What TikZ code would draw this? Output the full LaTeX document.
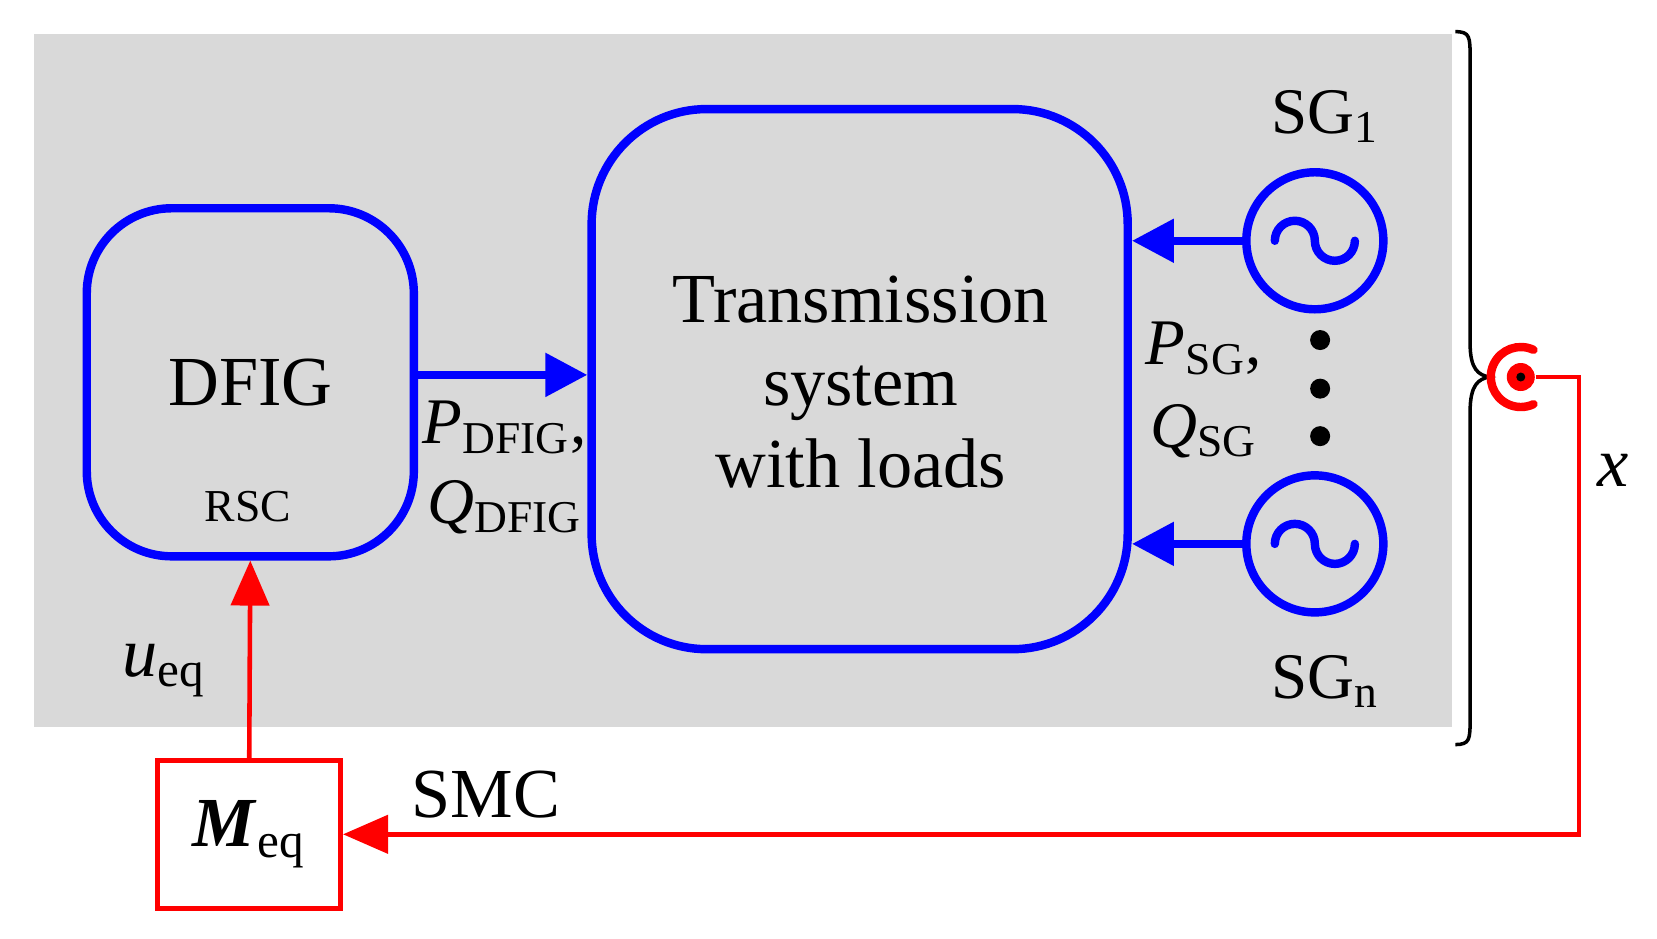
\documentclass[tikz,border=0pt]{standalone}
\usepackage{fontspec}
\setmainfont{Liberation Serif}
\usetikzlibrary{arrows.meta}
\begin{document}
\begin{tikzpicture}[x=0.01056cm,y=-0.01056cm,
  blu/.style={draw={rgb,255:red,0;green,0;blue,255},line width=2.4pt},
  rd/.style={draw={rgb,255:red,255;green,0;blue,0},line width=1.3pt},
  barr/.style={blu,-{Triangle[length=0.42cm,width=0.42cm]}},
  rarr/.style={rd,-{Triangle[length=0.45cm,width=0.38cm]}},
  big/.style={font=\fontsize{20}{23.5}\selectfont},
  mid/.style={font=\fontsize{18.5}{22}\selectfont}]
\useasboundingbox (0,0) rectangle (1569,889);
\fill[gray!30] (32,32) rectangle (1375,688);
\node[blu,rounded corners=0.85cm,minimum width=3.27cm,minimum height=3.48cm] (dfig) at (237,362) {};
\node[big] (dt) at (237,362) {DFIG};
\node[font=\fontsize{13}{16}\selectfont] (rsc) at (235,480) {RSC};
\node[blu,rounded corners=1.15cm,minimum width=5.36cm,minimum height=5.4cm] (ts) at (814,359) {};
\node[big,align=center] (tt) at (815,362) {Transmission\\system\\with loads};
\node[blu,circle,minimum size=1.37cm,inner sep=0] (sg1) at (1245,228) {};
\node[blu,circle,minimum size=1.37cm,inner sep=0] (sgn) at (1245,515) {};
\foreach \c in {sg1,sgn}{
 \draw[blu,line cap=round] ([xshift=-0.4cm]\c.center) arc[start angle=180,end angle=0,radius=0.2cm] arc[start angle=180,end angle=360,radius=0.2cm];}
\foreach \y in {322,368,413} \fill (1250,\y) circle[radius=0.1cm];
\node[mid] (l1) at (1255,110) {SG\textsubscript{1}};
\node[mid] (ln) at (1255,645) {SG\textsubscript{n}};
\draw[barr] (dfig.east|-0,355) -- (ts.west|-0,355);
\draw[barr] (sg1.west) -- (ts.east|-sg1);
\draw[barr] (sgn.west) -- (ts.east|-sgn);
\node[mid] (pd) at (478,405) {\textit{P}\textsubscript{DFIG},};
\node[mid] (qd) at (478,480) {\textit{Q}\textsubscript{DFIG}};
\node[mid] (ps) at (1140,330) {\textit{P}\textsubscript{SG},};
\node[mid] (qs) at (1140,408) {\textit{Q}\textsubscript{SG}};
\draw[line width=1pt] (1378,30) .. controls (1392,30) and (1392,35) .. (1392,55) -- (1392,325) .. controls (1392,350) and (1400,355) .. (1410,357) .. controls (1400,359) and (1392,364) .. (1392,390) -- (1392,680) .. controls (1392,700) and (1392,705) .. (1378,705);
\node[circle,fill=red,minimum size=0.28cm,inner sep=0] (s) at (1440,357) {};
\fill (s) circle[radius=0.045cm];
\draw[red,line width=2.4pt,line cap=round] (s.center) ++(65:0.3cm) arc[start angle=65,end angle=295,radius=0.3cm];
\node[red,rd,minimum width=1.83cm,minimum height=1.48cm] (M) at (236,790) {};
\node[big] at (236,790) {\textbf{\textit{M}}\textsubscript{eq}};
\coordinate (c1) at (1495,357);
\coordinate (c2) at (1495,790);
\draw[rarr] (s.east) -- (c1) -- (c2) -- (M.east);
\draw[rarr] (M.north) -- (dfig.south);
\node[big] (u) at (155,635) {\textit{u}\textsubscript{eq}};
\node[big] (smc) at (460,752) {SMC};
\node[big] (x) at (1527,445) {\textit{x}};
\end{tikzpicture}
\end{document}
